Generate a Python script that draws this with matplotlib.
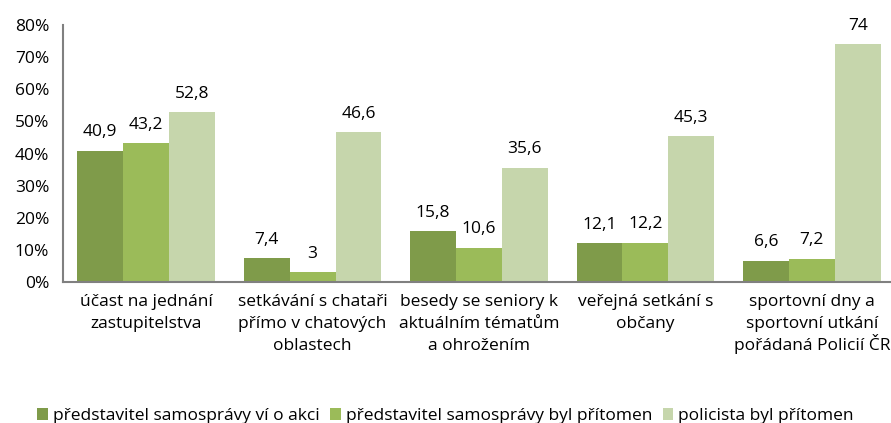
import numpy as np
import matplotlib.pyplot as plt

plt.rcParams['font.family'] = ['Open Sans', 'DejaVu Sans']

categories = ['účast na jednání\nzastupitelstva',
              'setkávání s chataři\npřímo v chatových\noblastech',
              'besedy se seniory k\naktuálním tématům\na ohrožením',
              'veřejná setkání s\nobčany',
              'sportovní dny a\nsportovní utkání\npořádaná Policií ČR']
series_names = ['představitel samosprávy ví o akci',
                'představitel samosprávy byl přítomen',
                'policista byl přítomen']
vi_o_akci = [40.9, 7.4, 15.8, 12.1, 6.6]
byl_pritomen = [43.2, 3, 10.6, 12.2, 7.2]
policista = [52.8, 46.6, 35.6, 45.3, 74]
labels = [['40,9', '7,4', '15,8', '12,1', '6,6'],
          ['43,2', '3', '10,6', '12,2', '7,2'],
          ['52,8', '46,6', '35,6', '45,3', '74']]
colors = ['#7F9B4A', '#9BBB59', '#C6D6AC']

fig = plt.figure(figsize=(8.91, 4.23), dpi=100)
ax = fig.add_axes([63/891, (423-282)/423, (891-63)/891, (282-25)/423])

x = np.arange(len(categories))
w = 0.276
for i, vals in enumerate([vi_o_akci, byl_pritomen, policista]):
    bars = ax.bar(x + (i - 1) * w, vals, w, color=colors[i], label=series_names[i])
    for b, t in zip(bars, labels[i]):
        ax.text(b.get_x() + b.get_width() / 2, b.get_height() + 3.3, t,
                ha='center', va='bottom', fontsize=12.5, color='black')

ax.set_ylim(0, 80)
ax.set_xlim(-0.5, 4.476)
ax.set_yticks(range(0, 81, 10))
ax.set_yticklabels([f'{v}%' for v in range(0, 81, 10)], fontsize=12.5)
ax.set_xticks(x)
ax.set_xticklabels([''] * len(categories))
# category labels line by line, so accents do not shift the lines
for xi, cat in zip(x, categories):
    for k, line in enumerate(cat.split('\n')):
        ax.text(xi, -7.4 - k * 6.9, line, ha='center', va='baseline', fontsize=12.5)
ax.tick_params(length=0)
ax.tick_params(axis='y', pad=10)
for s in ['top', 'right']:
    ax.spines[s].set_visible(False)
for s in ['left', 'bottom']:
    ax.spines[s].set_color('#808080')
    ax.spines[s].set_linewidth(1.5)

fig.legend(loc='lower center', bbox_to_anchor=(0.5, -0.04), ncol=3, frameon=False,
           fontsize=12.5, handlelength=0.6, handleheight=0.7, handletextpad=0.3,
           columnspacing=0.6)

fig.savefig('out.png', dpi=100)
